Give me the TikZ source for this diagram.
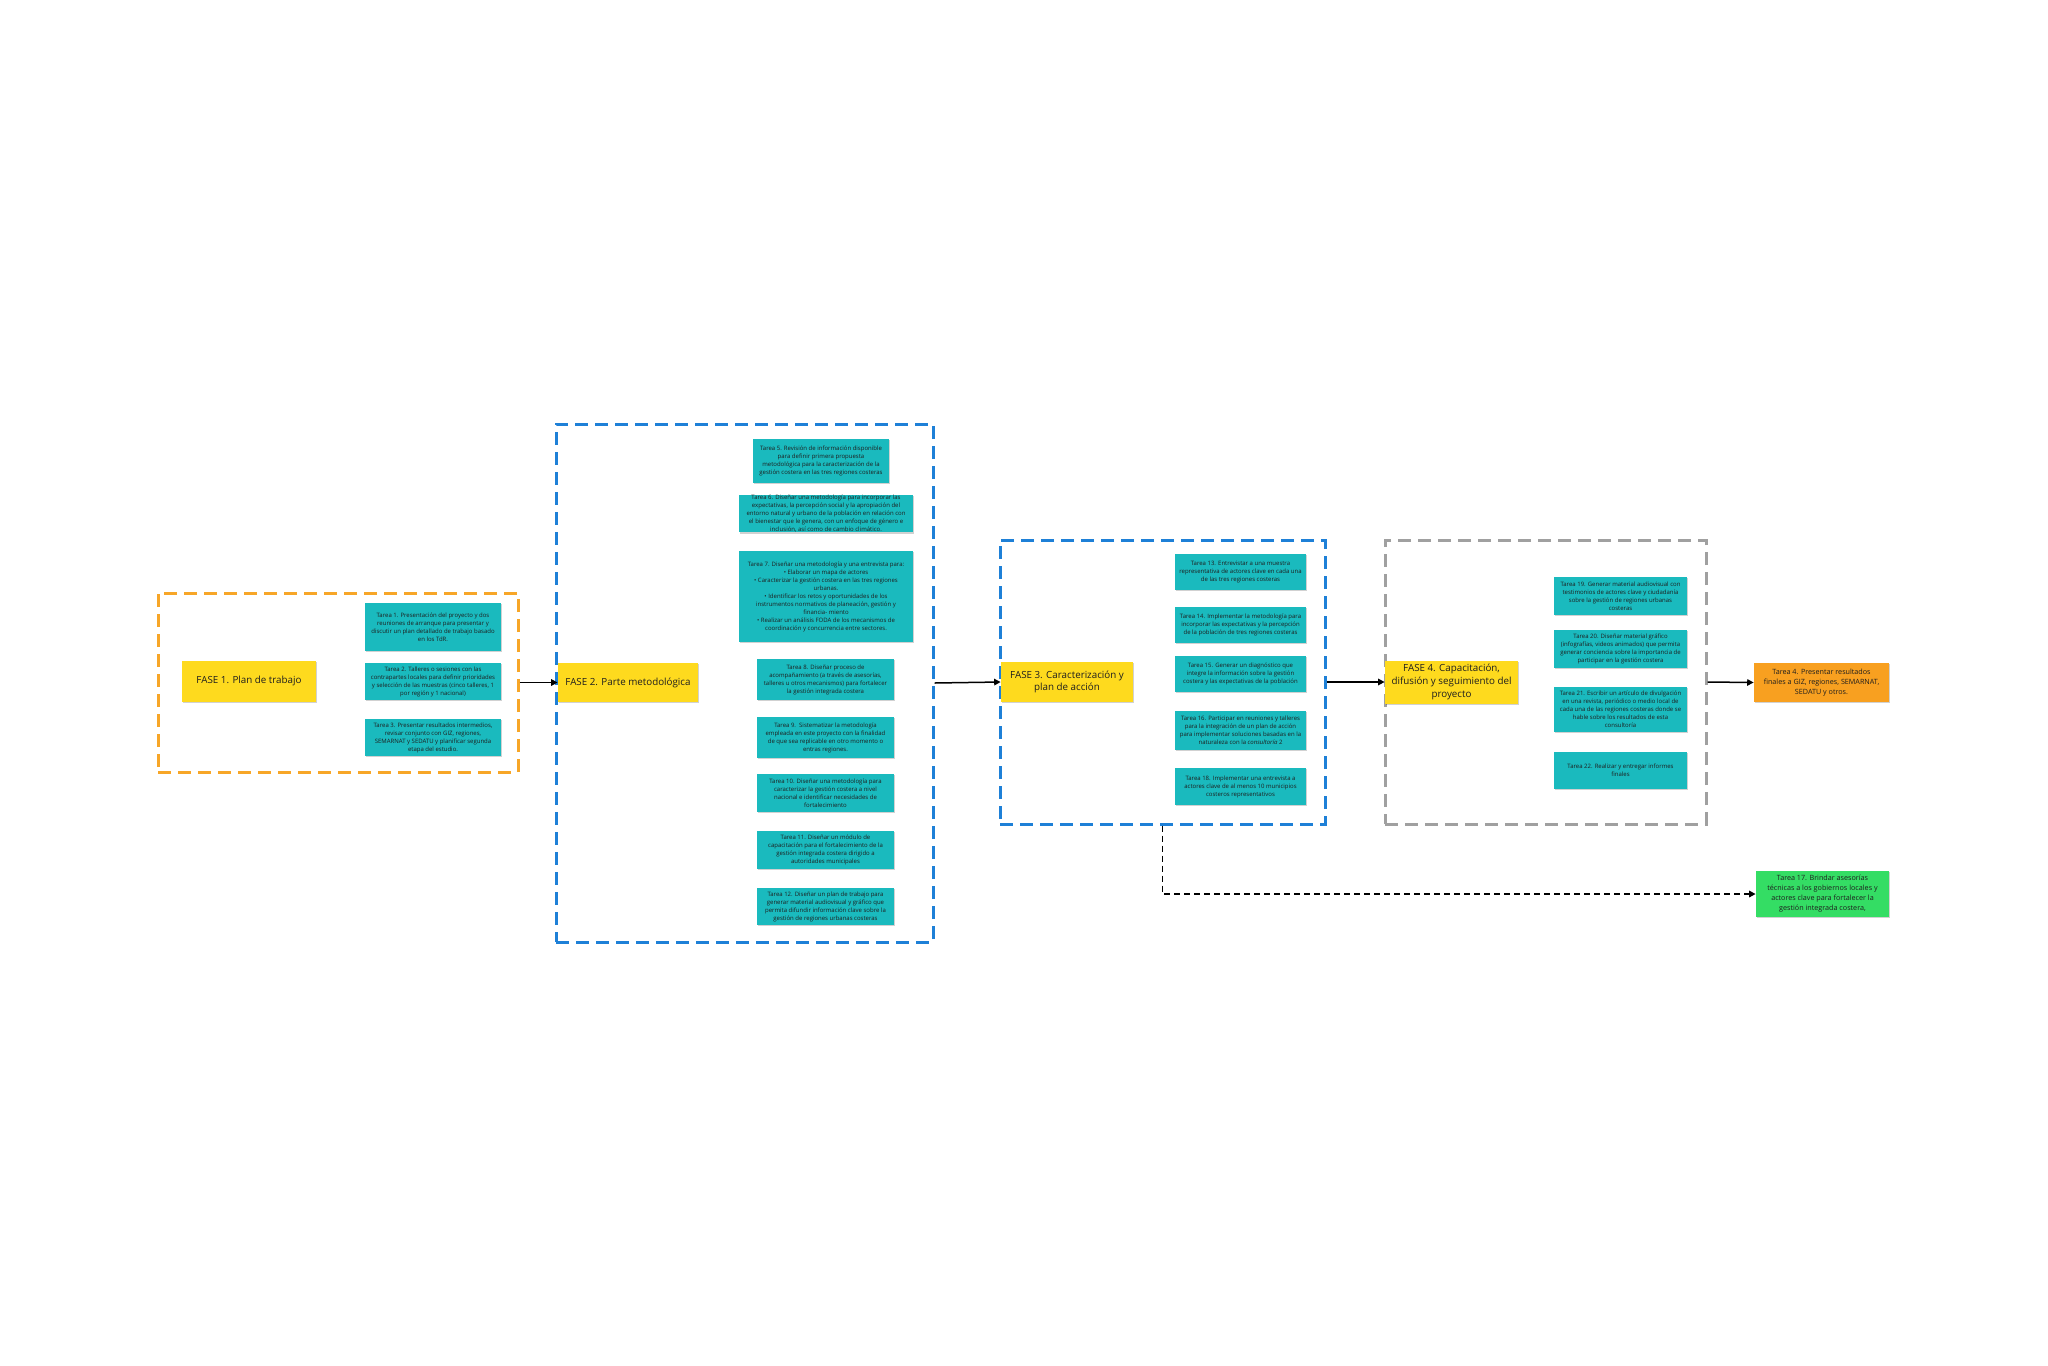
\documentclass[tikz,border=0pt]{standalone}
\usepackage{fontspec}
\setmainfont{Open Sans}
\usetikzlibrary{arrows.meta,shadows}
\definecolor{teal}{RGB}{26,186,190}
\definecolor{fyellow}{RGB}{254,218,30}
\definecolor{torange}{RGB}{248,160,32}
\definecolor{tgreen}{RGB}{52,221,100}
\definecolor{dorange}{RGB}{247,166,40}
\definecolor{dblue}{RGB}{30,128,215}
\definecolor{dgray}{RGB}{160,160,160}
\definecolor{txt}{RGB}{30,30,30}
\tikzset{
  shad/.style={drop shadow={shadow xshift=0.7pt,shadow yshift=-0.7pt,fill=black,opacity=0.18}},
  task/.style={shad,fill=teal,text=txt,inner sep=0pt,align=center,
    font=\fontsize{3pt}{4pt}\selectfont},
  fase/.style={shad,fill=fyellow,text=txt,inner sep=0pt,align=center,
    font=\fontsize{4.9pt}{6.4pt}\selectfont},
  outbox/.style={shad,text=txt,inner sep=0pt,align=center,
    font=\fontsize{3.6pt}{5pt}\selectfont},
  groupbox/.style={draw,line width=1.5pt,dash pattern=on 6.5pt off 3.5pt,inner sep=0pt},
  conn/.style={draw=black,line width=0.75pt,-{Triangle[length=3.2pt,width=3.2pt]}},
  dconn/.style={draw=black,line width=0.75pt,dash pattern=on 3pt off 2pt,-{Triangle[length=3.2pt,width=3.2pt]}}
}
\begin{document}
\begin{tikzpicture}[x=0.5pt,y=-0.5pt]
\useasboundingbox[fill=white] (0,0) rectangle (2048,1365);

% group boxes
\node[groupbox,draw=dorange,minimum width=180pt,minimum height=89.5pt] (box1) at (338,682.5) {};
\node[groupbox,draw=dblue,minimum width=188.5pt,minimum height=259pt] (box2) at (744.5,683) {};
\node[groupbox,draw=dblue,minimum width=162.5pt,minimum height=142pt] (box3) at (1162.5,682) {};
\node[groupbox,draw=dgray,minimum width=160.5pt,minimum height=142pt] (box4) at (1545.5,682) {};

% FASE 1
\node[fase,minimum width=67pt,minimum height=20.5pt] (f1) at (249,681) {FASE 1. Plan de trabajo};
\node[task,minimum width=68pt,minimum height=24pt] (t1) at (433,627) {Tarea 1. Presentación del proyecto y dos\\ reuniones de arranque para presentar y\\ discutir un plan detallado de trabajo basado\\ en los TdR.};
\node[task,minimum width=68pt,minimum height=18.5pt] (t2) at (433,681.5) {Tarea 2. Talleres o sesiones con las\\ contrapartes locales para definir prioridades\\ y selección de las muestras (cinco talleres, 1\\ por región y 1 nacional)};
\node[task,minimum width=68pt,minimum height=18.5pt] (t3) at (433,737.5) {Tarea 3. Presentar resultados intermedios,\\ revisar conjunto con GIZ, regiones,\\ SEMARNAT y SEDATU y planificar segunda\\ etapa del estudio.};

% FASE 2
\node[fase,minimum width=70pt,minimum height=19.5pt] (f2) at (628,682.5) {FASE 2. Parte metodológica};
\node[task,minimum width=68pt,minimum height=22pt] (t5) at (821,461) {Tarea 5. Revisión de información disponible\\ para definir primera propuesta\\ metodológica para la caracterización de la\\ gestión costera en las tres regiones costeras};
\node[task,minimum width=87pt,minimum height=18.5pt] (t6) at (826,513.5) {Tarea 6. Diseñar una metodología para incorporar las\\ expectativas, la percepción social y la apropiación del\\ entorno natural y urbano de la población en relación con\\ el bienestar que le genera, con un enfoque de género e\\ inclusión, así como de cambio climático.};
\node[task,minimum width=87pt,minimum height=45.5pt] (t7) at (826,596.5) {Tarea 7. Diseñar una metodología y una entrevista para:\\ • Elaborar un mapa de actores\\ • Caracterizar la gestión costera en las tres regiones\\ urbanas.\\ • Identificar los retos y oportunidades de los\\ instrumentos normativos de planeación, gestión y\\ financia- miento\\ • Realizar un análisis FODA de los mecanismos de\\ coordinación y concurrencia entre sectores.};
\node[task,minimum width=68.5pt,minimum height=20.5pt] (t8) at (825.5,679.5) {Tarea 8. Diseñar proceso de\\ acompañamiento (a través de asesorías,\\ talleres u otros mecanismos) para fortalecer\\ la gestión integrada costera};
\node[task,minimum width=68.5pt,minimum height=20.5pt] (t9) at (825.5,737.5) {Tarea 9.\ \ Sistematizar la metodología\\ empleada en este proyecto con la finalidad\\ de que sea replicable en otro momento o\\ entras regiones.};
\node[task,minimum width=68.5pt,minimum height=19pt] (t10) at (825.5,793) {Tarea 10. Diseñar una metodología para\\ caracterizar la gestión costera a nivel\\ nacional e identificar necesidades de\\ fortalecimiento};
\node[task,minimum width=68.5pt,minimum height=19pt] (t11) at (825.5,850) {Tarea 11. Diseñar un módulo de\\ capacitación para el fortalecimiento de la\\ gestión integrada costera dirigido a\\ autoridades municipales};
\node[task,minimum width=68.5pt,minimum height=18.5pt] (t12) at (825.5,906.5) {Tarea 12. Diseñar un plan de trabajo para\\ generar material audiovisual y gráfico que\\ permita difundir información clave sobre la\\ gestión de regiones urbanas costeras};

% FASE 3
\node[fase,minimum width=66pt,minimum height=20pt] (f3) at (1067,682) {FASE 3. Caracterización y\\ plan de acción};
\node[task,minimum width=65.5pt,minimum height=18pt] (t13) at (1240.5,572) {Tarea 13. Entrevistar a una muestra\\ representativa de actores clave en cada una\\ de las tres regiones costeras};
\node[task,minimum width=65.5pt,minimum height=18pt] (t14) at (1240.5,625) {Tarea 14. Implementar la metodología para\\ incorporar las expectativas y la percepción\\ de la población de tres regiones costeras};
\node[task,minimum width=65.5pt,minimum height=18pt] (t15) at (1240.5,674) {Tarea 15. Generar un diagnóstico que\\ integre la información sobre la gestión\\ costera y las expectativas de la población};
\node[task,minimum width=65.5pt,minimum height=19.5pt] (t16) at (1240.5,730.5) {Tarea 16. Participar en reuniones y talleres\\ para la integración de un plan de acción\\ para implementar soluciones basadas en la\\ naturaleza con la {\itshape consultoría} 2};
\node[task,minimum width=65.5pt,minimum height=18.5pt] (t18) at (1240.5,786.5) {Tarea 18. Implementar una entrevista a\\ actores clave de al menos 10 municipios\\ costeros representativos};

% FASE 4
\node[fase,minimum width=66.5pt,minimum height=21.5pt] (f4) at (1451.5,682) {FASE 4. Capacitación,\\ difusión y seguimiento del\\ proyecto};
\node[task,minimum width=66.5pt,minimum height=19pt] (t19) at (1620.5,596) {Tarea 19. Generar material audiovisual con\\ testimonios de actores clave y ciudadanía\\ sobre la gestión de regiones urbanas\\ costeras};
\node[task,minimum width=66.5pt,minimum height=19pt] (t20) at (1620.5,649) {Tarea 20. Diseñar material gráfico\\ (infografías, videos animados) que permita\\ generar conciencia sobre la importancia de\\ participar en la gestión costera};
\node[task,minimum width=66.5pt,minimum height=22.5pt] (t21) at (1620.5,709.5) {Tarea 21. Escribir un artículo de divulgación\\ en una revista, periódico o medio local de\\ cada una de las regiones costeras donde se\\ hable sobre los resultados de esta\\ consultoría};
\node[task,minimum width=66.5pt,minimum height=18.5pt] (t22) at (1620.5,770.5) {Tarea 22. Realizar y entregar informes\\ finales};

% outputs
\node[outbox,fill=torange,minimum width=67.5pt,minimum height=19.5pt] (t4) at (1821.5,682.5) {Tarea 4. Presentar resultados\\ finales a GIZ, regiones, SEMARNAT,\\ SEDATU y otros.};
\node[outbox,fill=tgreen,minimum width=66.5pt,minimum height=23pt] (t17) at (1822.5,894) {Tarea 17. Brindar asesorías\\ técnicas a los gobiernos locales y\\ actores clave para fortalecer la\\ gestión integrada costera,};

% connectors
\draw[conn] (box1.east) -- (f2.west);
\draw[conn] (box2.east) -- (f3.west);
\draw[conn] (box3.east) -- (f4.west);
\draw[conn] (box4.east) -- (t4.west);
\draw[dconn] (box3.south) |- (t17.west);
\end{tikzpicture}
\end{document}
